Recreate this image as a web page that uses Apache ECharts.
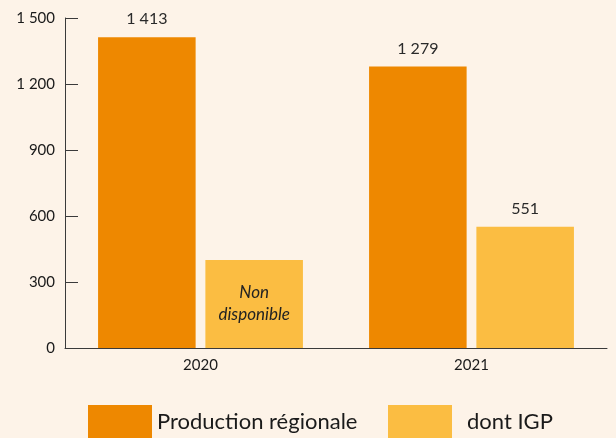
<!DOCTYPE html>
<html>
<head>
<meta charset="utf-8">
<script src="https://cdn.jsdelivr.net/npm/echarts@6/dist/echarts.min.js"></script>
<style>
html,body{margin:0;padding:0;background:#fdf3e8;}
#c{width:616px;height:438px;}
</style>
</head>
<body>
<div id="c"></div>
<script>
const categories = ['2020', '2021'];
const productionRegionale = [1413, 1279];
const dontIGP = [400, 551]; // 2020: "Non disponible" placeholder bar
const igpAvailable = [false, true];
const seriesNames = ['Production régionale', 'dont IGP'];
const yTicks = [0, 300, 600, 900, 1200, 1500];

const fmt = v => String(v).replace(/\B(?=(\d{3})+(?!\d))/g, ' ');
const FONT = 'Lato';

const chart = echarts.init(document.getElementById('c'));
chart.setOption({
  backgroundColor: '#fdf3e8',
  animation: false,
  textStyle: { fontFamily: FONT },
  grid: { left: 65, right: 9, top: 18, bottom: 90 },
  legend: [
    { data: [seriesNames[0]], left: 88, top: 405, padding: 0, itemWidth: 64, itemHeight: 34, itemGap: 12,
      textStyle: { fontSize: 22, color: '#1a1a1a', fontFamily: FONT, padding: [4,0,0,0] }, icon: 'rect' },
    { data: [seriesNames[1]], left: 388, top: 405, padding: 0, itemWidth: 64, itemHeight: 34,
      textStyle: { fontSize: 22, color: '#1a1a1a', fontFamily: FONT, padding: [4,0,0,10] }, icon: 'rect' }
  ],
  xAxis: {
    type: 'category', data: categories,
    axisLine: { lineStyle: { color: '#3a3a3a', width: 1 } },
    axisTick: { inside: true, length: 8, lineStyle: { color: '#3a3a3a' } },
    axisLabel: { fontSize: 15, color: '#1a1a1a', margin: 10 }
  },
  yAxis: {
    type: 'value', min: yTicks[0], max: yTicks[yTicks.length - 1], interval: 300,
    splitLine: { show: false },
    axisLine: { show: true, lineStyle: { color: '#3a3a3a', width: 1 } },
    axisTick: { show: true, inside: true, length: 13, lineStyle: { color: '#3a3a3a' } },
    axisLabel: { fontSize: 15, color: '#1a1a1a', margin: 10, formatter: v => fmt(v) }
  },
  series: [
    {
      name: seriesNames[0], type: 'bar', data: productionRegionale,
      barWidth: '36%', barGap: '10%',
      itemStyle: { color: '#ee8800' },
      label: { show: true, position: 'top', distance: 10, fontSize: 16, color: '#2a2a2a', formatter: p => fmt(p.value) }
    },
    {
      name: seriesNames[1], type: 'bar',
      data: dontIGP.map((v, i) => igpAvailable[i] ? v : {
        value: v,
        label: { show: true, position: 'inside', formatter: 'Non\ndisponible', fontStyle: 'italic', fontWeight: 'normal', fontSize: 17, lineHeight: 22, color: '#222' }
      }),
      barWidth: '36%',
      itemStyle: { color: '#fbbd42' },
      label: { show: true, position: 'top', distance: 10, fontSize: 16, color: '#2a2a2a', formatter: p => fmt(p.value) }
    }
  ]
});
</script>
</body>
</html>
